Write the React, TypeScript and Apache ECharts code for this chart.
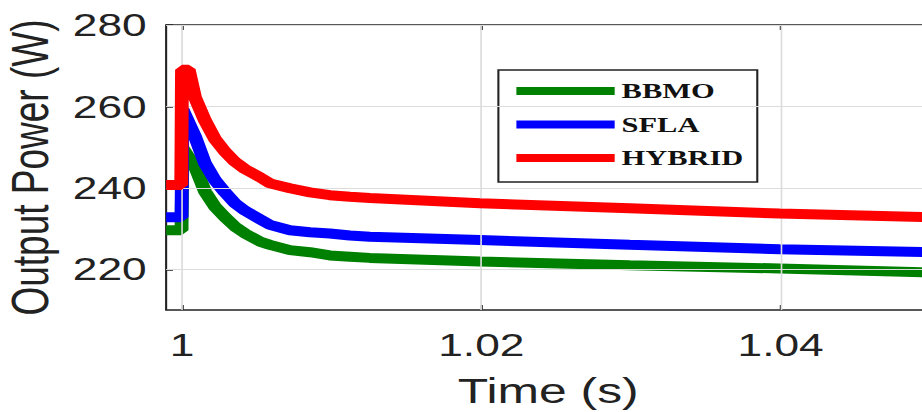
import React, { useEffect, useRef } from 'react';
import * as echarts from 'echarts';

// Time (s) and output power (W)
const bbmoTime = [0.99894, 0.99997, 1.00003, 1.00087, 1.00154, 1.0022, 1.00287, 1.00354, 1.00421, 1.00521, 1.00588, 1.00721, 1.00855, 1.00988, 1.01122, 1.01255, 1.0199, 1.02992, 1.03993, 1.05];
const bbmoPower = [229.6, 229.6, 249.8, 245.2, 239.1, 235.4, 232.8, 230.5, 228.8, 226.8, 226.0, 224.7, 224.2, 223.4, 223.1, 222.8, 221.9, 221.0, 220.2, 219.2];

const sflaTime = [0.99894, 0.99997, 1.00003, 1.00087, 1.00154, 1.0022, 1.00287, 1.00354, 1.00421, 1.00521, 1.00588, 1.00721, 1.00855, 1.00988, 1.01122, 1.01255, 1.0199, 1.02992, 1.03993, 1.05];
const sflaPower = [232.8, 232.8, 259.3, 252.6, 246.0, 241.9, 238.9, 236.2, 234.4, 232.3, 230.9, 229.6, 229.1, 228.8, 228.3, 228.0, 227.2, 226.0, 224.9, 224.2];

const hybridTime = [0.99894, 0.99995, 1.0, 1.00045, 1.00087, 1.00154, 1.0022, 1.00287, 1.00354, 1.00421, 1.00521, 1.00588, 1.00721, 1.00855, 1.00988, 1.01122, 1.01255, 1.0199, 1.02992, 1.03993, 1.05];
const hybridPower = [240.7, 240.7, 269.0, 269.0, 262.2, 256.5, 252.0, 248.9, 246.4, 244.6, 242.6, 241.1, 239.9, 238.9, 238.2, 237.8, 237.5, 236.2, 235.0, 233.7, 232.8];

const seriesNames = ['BBMO', 'SFLA', 'HYBRID'];
const seriesColors = ['#008000', '#0000ff', '#ff0000'];
const xTicks = [1, 1.02, 1.04];
const yTicks = [220, 240, 260, 280];
const xRange = [0.99894, 1.05];
const yRange = [210, 280];

const pairs = (t: number[], v: number[]) => t.map((x, i) => [x, v[i]]);

export default function App() {
  const ref = useRef<HTMLDivElement>(null);
  useEffect(() => {
    const chart = echarts.init(ref.current!, null, { renderer: 'svg' });
    const font = '"Liberation Sans", Arial, sans-serif';
    const ink = '#222222';
    const lineSeries = [
      pairs(bbmoTime, bbmoPower),
      pairs(sflaTime, sflaPower),
      pairs(hybridTime, hybridPower),
    ].map((data, i) => ({
      name: seriesNames[i],
      type: 'line',
      data,
      symbol: 'none',
      showSymbol: false,
      color: seriesColors[i],
      lineStyle: { width: 10, color: seriesColors[i] },
      z: 3 + i,
      emphasis: { disabled: true },
    }));
    chart.setOption({
      animation: false,
      backgroundColor: '#ffffff',
      grid: {
        left: 120,
        top: 25,
        right: -6,
        bottom: 102,
        outerBoundsMode: 'none',
        containLabel: false,
        show: true,
        borderColor: ink,
        borderWidth: 1.5,
        backgroundColor: 'transparent',
      },
      legend: {
        data: seriesNames,
        orient: 'vertical',
        left: 360,
        top: 70,
        icon: 'rect',
        itemWidth: 71,
        itemHeight: 8,
        itemGap: 11.5,
        padding: [10, 10, 13, 13],
        borderColor: ink,
        borderWidth: 1.5,
        backgroundColor: '#ffffff',
        selectedMode: false,
        textStyle: {
          fontFamily: '"Liberation Serif", "Times New Roman", serif',
          fontWeight: 'bold',
          fontSize: 22,
          lineHeight: 22,
          color: '#111111',
          textShadowColor: 'rgba(225,140,40,0.55)',
          textShadowOffsetX: -1,
          textShadowBlur: 0,
        },
      },
      xAxis: [
        {
          type: 'value',
          min: xRange[0],
          max: xRange[1],
          name: 'Time (s)',
          nameLocation: 'middle',
          nameGap: 63,
          nameTextStyle: { fontFamily: font, fontSize: 36, color: ink },
          axisLine: { show: false },
          splitLine: { show: false },
          axisTick: { show: true, inside: true, length: 5, customValues: xTicks, lineStyle: { color: ink, width: 1.5 } },
          axisLabel: {
            customValues: xTicks,
            margin: 19,
            fontFamily: font,
            fontSize: 32,
            color: ink,
            formatter: (v: number) => String(Number(v.toFixed(2))),
          },
        },
        {
          type: 'value',
          position: 'top',
          min: xRange[0],
          max: xRange[1],
          axisLine: { show: false },
          splitLine: { show: false },
          axisTick: { show: true, inside: true, length: 5, customValues: xTicks, lineStyle: { color: ink, width: 1.5 } },
          axisLabel: { show: false },
        },
      ],
      yAxis: {
        type: 'value',
        min: yRange[0],
        max: yRange[1],
        name: 'Output Power (W)',
        nameLocation: 'middle',
        nameGap: 80,
        nameTextStyle: { fontFamily: font, fontSize: 37, color: ink },
        axisLine: { show: false },
        splitLine: { show: false },
        axisTick: { show: true, inside: true, length: 5, customValues: yTicks, lineStyle: { color: ink, width: 1.5 } },
        axisLabel: {
          customValues: yTicks,
          margin: 14,
          fontFamily: font,
          fontSize: 32,
          color: ink,
        },
      },
      series: [
        {
          name: 'grid',
          type: 'line',
          data: [[xTicks[0], yTicks[0]]],
          symbol: 'none',
          showSymbol: false,
          lineStyle: { width: 0 },
          z: 1,
          silent: true,
          markLine: {
            silent: true,
            symbol: ['none', 'none'],
            label: { show: false },
            emphasis: { disabled: true },
            lineStyle: { color: '#dcdcdc', width: 1.2, type: 'solid' },
            data: [
              ...xTicks.map((x) => ({ xAxis: x })),
              ...yTicks.map((y) => ({ yAxis: y })),
            ],
          },
        },
        ...lineSeries,
      ],
    });
    return () => chart.dispose();
  }, []);
  return (
    <div
      ref={ref}
      style={{
        position: 'fixed',
        left: 0,
        top: 0,
        width: 666,
        height: 412,
        transform: 'scaleX(1.3844)',
        transformOrigin: '0 0',
      }}
    />
  );
}
